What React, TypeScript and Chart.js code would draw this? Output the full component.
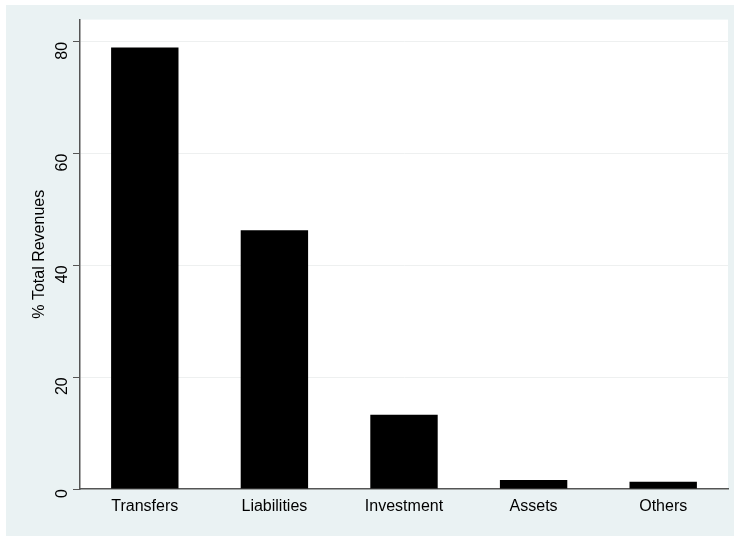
import React, { useEffect, useRef } from 'react';
import { Chart, registerables } from 'chart.js';

Chart.register(...registerables);

const categories = ['Transfers', 'Liabilities', 'Investment', 'Assets', 'Others'];
const shares = [79.0, 46.3, 13.3, 1.6, 1.3];
const yTicks = [0, 20, 40, 60, 80];

// paints the Stata-like backdrop: light outer frame, white plot region
const backdrop = {
  id: 'backdrop',
  beforeDraw(chart: Chart) {
    const { ctx, chartArea } = chart;
    ctx.save();
    ctx.fillStyle = '#ffffff';
    ctx.fillRect(0, 0, chart.width, chart.height);
    ctx.fillStyle = '#eaf2f3';
    ctx.fillRect(6, 5, chart.width - 12, chart.height - 9);
    ctx.fillStyle = '#ffffff';
    ctx.fillRect(chartArea.left, chartArea.top, chartArea.right - chartArea.left, chartArea.bottom - chartArea.top);
    ctx.restore();
  },
};

const App: React.FC = () => {
  const canvasRef = useRef<HTMLCanvasElement | null>(null);

  useEffect(() => {
    if (!canvasRef.current) return;
    const chart = new Chart(canvasRef.current, {
      type: 'bar',
      data: {
        labels: categories,
        datasets: [{ data: shares, backgroundColor: '#000000', barPercentage: 0.52, categoryPercentage: 1 }],
      },
      options: {
        responsive: false,
        animation: false,
        layout: { padding: { top: 18, right: 12, left: 30, bottom: 0 } },
        plugins: { legend: { display: false }, tooltip: { enabled: false } },
        scales: {
          x: {
            grid: { display: false, drawTicks: false },
            border: { color: '#555555', width: 1.5 },
            ticks: { color: '#000', font: { family: 'Liberation Sans', size: 16 }, padding: 8 },
            afterFit: (s: any) => { s.height = 51; },
          },
          y: {
            min: 0,
            max: 84,
            afterBuildTicks: (s: any) => { s.ticks = yTicks.map((v) => ({ value: v })); },
            grid: {
              color: (c: any) => (c.tick && c.tick.value === 0 ? 'rgba(0,0,0,0)' : '#eef0f0'),
              tickColor: '#555555',
              tickLength: 7,
            },
            border: { color: '#555555', width: 1.5 },
            ticks: { color: '#000', font: { family: 'Liberation Sans', size: 16 }, minRotation: 90, maxRotation: 90, padding: 10 },
            title: { display: true, text: '% Total Revenues', color: '#000', font: { family: 'Liberation Sans', size: 16 }, padding: 0 },
            afterFit: (s: any) => { s.width = 50; },
          },
        },
      },
      plugins: [backdrop],
    });
    return () => chart.destroy();
  }, []);

  return (
    <div style={{ position: 'absolute', left: 0, top: 0 }}>
      <canvas ref={canvasRef} width={740} height={540}></canvas>
    </div>
  );
};

export default App;
